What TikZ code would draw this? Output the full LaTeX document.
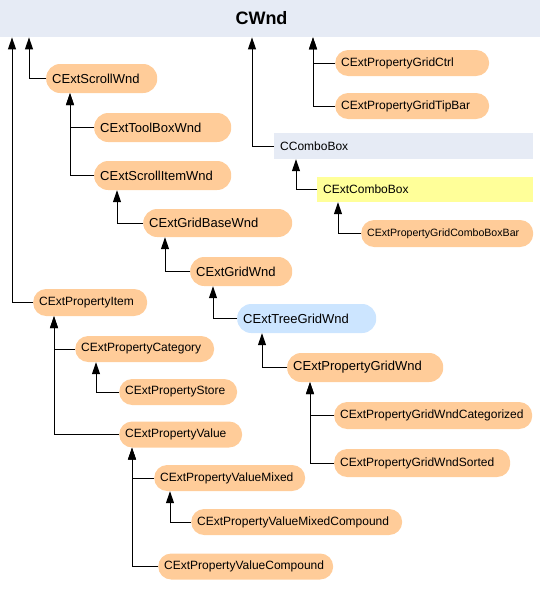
\documentclass[tikz,border=0pt]{standalone}
\usepackage{fontspec}
\setmainfont{Liberation Sans}
\usetikzlibrary{arrows.meta}
\definecolor{peach}{HTML}{FFCC99}
\definecolor{lblue}{HTML}{CCE5FF}
\definecolor{barbg}{HTML}{E6EBF5}
\definecolor{lyellow}{HTML}{FFFF99}
\tikzset{
  box/.style={anchor=west, inner xsep=6pt, inner ysep=0pt, align=left, text=black, draw=none},
  big/.style={box, fill=peach, minimum height=29pt, rounded corners=14pt, font=\fontsize{13}{15}\selectfont},
  small/.style={box, fill=peach, minimum height=26pt, rounded corners=13pt, font=\fontsize{12}{14}\selectfont},
  flat/.style={box, minimum height=26pt, font=\fontsize{12}{14}\selectfont},
  conn/.style={draw=black, line width=1pt, -{Triangle[width=8pt,length=12pt]}}
}
\begin{document}
\begin{tikzpicture}[x=1pt,y=-1pt]
\useasboundingbox (0,0) rectangle (540,600);
% top bar
\node[anchor=north west, fill=barbg, minimum width=540pt, minimum height=37pt, inner sep=0pt] (cwnd) at (0,0) {};
\node[font=\bfseries\fontsize{18}{20}\selectfont, inner sep=0pt] (cwndt) at (261.5,18) {CWnd};

% left tree
\node[big, text width=99pt] (scroll) at (46,78.5) {CExtScrollWnd};
\node[big, text width=125pt] (toolbox) at (94,127.5) {CExtToolBoxWnd};
\node[big, text width=125pt] (scrollitem) at (94,175.5) {CExtScrollItemWnd};
\node[big, text width=137pt, minimum height=28pt] (gridbase) at (143,223) {CExtGridBaseWnd};
\node[big, text width=90pt] (gridwnd) at (190,271.5) {CExtGridWnd};
\node[big, fill=lblue, text width=127pt] (treegrid) at (237,318.5) {CExtTreeGridWnd};
\node[big, text width=144pt] (pgw) at (287,367.5) {CExtPropertyGridWnd};
\node[small, minimum height=27pt, text width=186pt] (pgwcat) at (334,415.5) {CExtPropertyGridWndCategorized};
\node[small, minimum height=28pt, text width=164pt] (pgwsorted) at (334,463) {CExtPropertyGridWndSorted};

\node[small, minimum height=27pt, text width=102pt] (pitem) at (33,302.5) {CExtPropertyItem};
\node[small, text width=127pt] (pcat) at (75,349) {CExtPropertyCategory};
\node[small, text width=106pt] (pstore) at (119,392) {CExtPropertyStore};
\node[small, text width=111pt] (pvalue) at (119,434.5) {CExtPropertyValue};
\node[small, text width=139pt] (pvmixed) at (154,478) {CExtPropertyValueMixed};
\node[small, text width=199pt] (pvmcomp) at (191,522) {CExtPropertyValueMixedCompound};
\node[small, text width=163pt] (pvcomp) at (158,566.5) {CExtPropertyValueCompound};

% right part
\node[small, text width=142pt] (pgctrl) at (335,63) {CExtPropertyGridCtrl};
\node[small, text width=142pt] (pgtip) at (335,106) {CExtPropertyGridTipBar};
\node[flat, fill=barbg, text width=247pt] (ccombo) at (274,146) {CComboBox};
\node[flat, fill=lyellow, minimum height=25pt, text width=204pt] (extcombo) at (317,189.5) {CExtComboBox};
\node[small, minimum height=27pt, text width=160pt, font=\fontsize{10.6}{12}\selectfont] (pgcbb) at (361,233.5) {CExtPropertyGridComboBoxBar};

% connectors
\draw[conn] (pitem.west) -| ([xshift=12pt]cwnd.south west);
\draw[conn] (scroll.west) -| ([xshift=29pt]cwnd.south west);
\draw[conn] (ccombo.west) -| ([xshift=252pt]cwnd.south west);
\draw[conn] (pgtip.west) -| ([xshift=313pt]cwnd.south west);
\draw[conn] (pgctrl.west) -| ([xshift=313pt]cwnd.south west);

\draw[conn] (scrollitem.west) -| ([xshift=24pt]scroll.south west);
\draw[conn] (toolbox.west) -| ([xshift=24pt]scroll.south west);
\draw[conn] (gridbase.west) -| ([xshift=23pt]scrollitem.south west);
\draw[conn] (gridwnd.west) -| ([xshift=22pt]gridbase.south west);
\draw[conn] (treegrid.west) -| ([xshift=23pt]gridwnd.south west);
\draw[conn] (pgw.west) -| ([xshift=25pt]treegrid.south west);
\draw[conn] (pgwsorted.west) -| ([xshift=23pt]pgw.south west);
\draw[conn] (pgwcat.west) -| ([xshift=23pt]pgw.south west);

\draw[conn] (pvalue.west) -| ([xshift=21pt]pitem.south west);
\draw[conn] (pcat.west) -| ([xshift=21pt]pitem.south west);
\draw[conn] (pstore.west) -| ([xshift=21pt]pcat.south west);
\draw[conn] (pvcomp.west) -| ([xshift=13pt]pvalue.south west);
\draw[conn] (pvmixed.west) -| ([xshift=13pt]pvalue.south west);
\draw[conn] (pvmcomp.west) -| ([xshift=16pt]pvmixed.south west);

\draw[conn] (extcombo.west) -| ([xshift=22pt]ccombo.south west);
\draw[conn] (pgcbb.west) -| ([xshift=21pt]extcombo.south west);
\end{tikzpicture}
\end{document}
